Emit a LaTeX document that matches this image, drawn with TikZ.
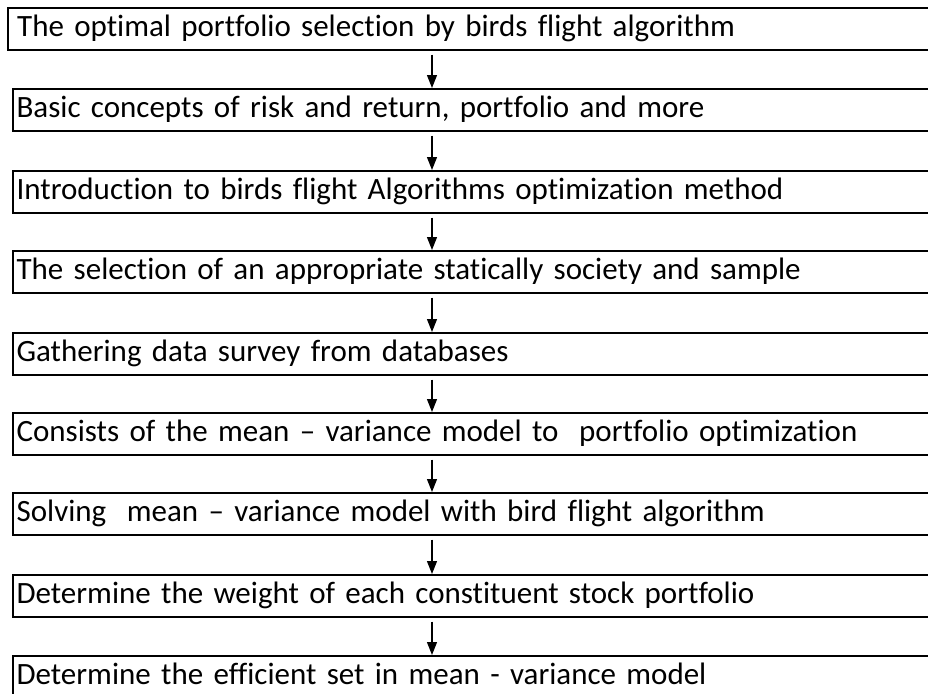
\documentclass[tikz,border=0pt]{standalone}
\usepackage{fontspec}
\setmainfont{Carlito}[Ligatures=NoCommon]
\usetikzlibrary{arrows.meta, positioning}
\tikzstyle{stepbox}=[draw,line width=1pt,anchor=north west,minimum height=20.8pt,text width=470pt,align=left,inner xsep=1.8pt,text height=1.6ex,text depth=0pt,font=\fontsize{15.5}{18}\selectfont]
\tikzstyle{flow}=[line width=0.65pt,-{Triangle[width=5pt,length=6.5pt]},shorten <=2pt]

\begin{document}
\begin{tikzpicture}[x=0.5pt,y=-0.5pt]
    \useasboundingbox (0,0) rectangle (928,693);
    \clip (0,0) rectangle (928,693);
    \node[stepbox,inner xsep=4.6pt] (b1) at (7,7) {The optimal portfolio selection by birds flight algorithm};
    \foreach \i/\top/\txt in {2/88/{Basic concepts of risk and return, portfolio and more},
                              3/170/{Introduction to birds flight Algorithms optimization method},
                              4/250/{The selection of an appropriate statically society and sample},
                              5/332/{Gathering data survey from databases},
                              6/412/{Consists of the mean -- variance model to\ \ portfolio optimization},
                              7/492/{Solving\ \ mean -- variance model with bird flight algorithm},
                              8/574/{Determine the weight of each constituent stock portfolio},
                              9/655/{Determine the efficient set in mean - variance model}}
        \node[stepbox] (b\i) at (12,\top) {\txt};
    \coordinate (ax) at (432,0);
    \foreach \i [evaluate=\i as \j using int(\i+1)] in {1,...,8}
        \draw[flow] (b\i.south -| ax) -- (b\j.north -| ax);
\end{tikzpicture}
\end{document}
